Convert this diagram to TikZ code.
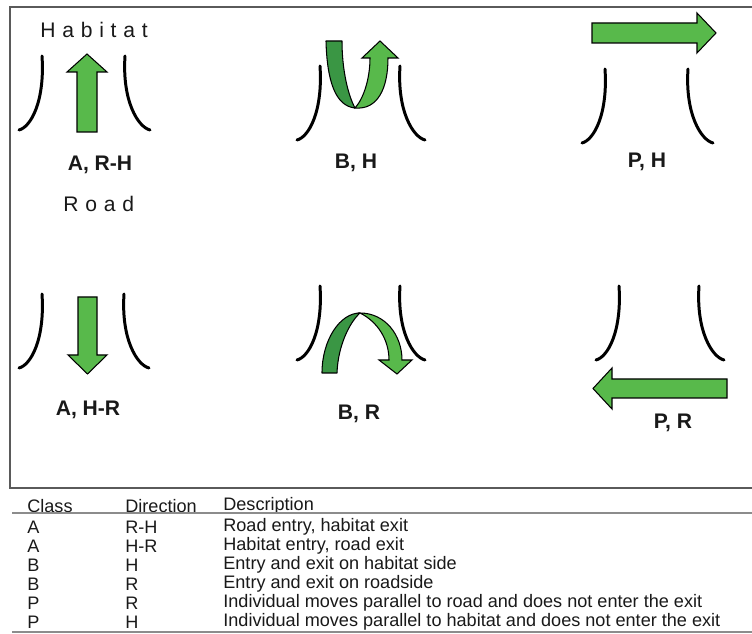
\documentclass[tikz,border=0pt]{standalone}
\usepackage{fontspec}
\setmainfont{Liberation Sans}
\newfontfamily\spacedfont[LetterSpace=32]{Liberation Sans}
\usepackage{xcolor}
\usepackage{tikz}
\usetikzlibrary{calc}
\definecolor{lightgr}{RGB}{88,185,75}
\definecolor{darkgr}{RGB}{58,150,68}
\definecolor{framegray}{RGB}{90,90,90}
\definecolor{rulegray}{RGB}{140,140,140}
\tikzset{
  gapline/.style={line width=1.7pt, line cap=round},
  arrowshape/.style={fill=lightgr, draw=black, line width=0.6pt, line join=miter},
  bandshape/.style={fill=darkgr, draw=black, line width=0.6pt, line join=round},
  caselabel/.style={font=\fontsize{12}{14}\selectfont\bfseries, text=black!90},
  sidelabel/.style={font=\fontsize{12}{14}\selectfont\spacedfont, text=black!90, anchor=west, inner sep=0pt},
  tabtext/.style={font=\fontsize{10.3}{12}\selectfont, anchor=west, inner sep=0pt, text=black!90}
}

\begin{document}
\begin{tikzpicture}[x=0.02cm, y=-0.02cm]
\useasboundingbox (0,0) rectangle (752,634);
\draw[framegray, line width=0.7pt] (752,7) -- (10,7) -- (10,488) -- (752,488);
\foreach \lx/\rx/\ty in {42/125/56, 42/124/294, 320/400/66, 320/400/286, 605/688/69, 619/699/286} {
  \draw[gapline] (\lx,\ty) .. controls +(3,45) and +(12,-3) .. +(-23,74);
  \draw[gapline] (\rx,\ty) .. controls +(-3,45) and +(-12,-3) .. +(25,74);
}
\draw[arrowshape] (77,132) -- (77,72) -- (67,72) -- (87,54) -- (107,72) -- (97,72) -- (97,132) -- cycle;
\draw[arrowshape] (78,297) -- (78,355) -- (68,355) -- (87.5,374) -- (107,355) -- (97,355) -- (97,297) -- cycle;
\draw[arrowshape] (592,23) -- (697,23) -- (697,13) -- (716,33) -- (697,53) -- (697,43) -- (592,43) -- cycle;
\draw[arrowshape] (727,379) -- (612,379) -- (612,368) -- (593,388.5) -- (612,409) -- (612,398) -- (727,398) -- cycle;
\draw[bandshape] (326,41) .. controls (327,80) and (335,106) .. (355,108) .. controls (348,95) and (342,70) .. (342,41) -- cycle;
\draw[arrowshape] (355,108) .. controls (378,110) and (388,88) .. (388,58) -- (398,58) -- (380,41) -- (362,58) -- (370,58) .. controls (370,78) and (364,98) .. (355,108) -- cycle;
\draw[bandshape] (322,373) .. controls (322,340) and (340,313) .. (360,313) .. controls (350,322) and (338,345) .. (337,373) -- cycle;
\draw[arrowshape] (360,313) .. controls (385,313) and (402,335) .. (402,360) -- (412,360) -- (397,374) -- (379,360) -- (389,360) .. controls (389,340) and (378,322) .. (360,313) -- cycle;
\node[sidelabel] (habitat) at (40,30) {Habitat};
\node[sidelabel] (road) at (63,204) {Road};
\foreach \nm/\px/\py/\txt in {rh/100/165/{A, R-H}, bh/356/163/{B, H}, ph/647/162/{P, H}, hr/88/410/{A, H-R}, br/359/414/{B, R}, pr/673/423/{P, R}}
  \node[caselabel] (lab-\nm) at (\px,\py) {\txt};
\node[tabtext] (hclass) at (27,506) {Class};
\node[tabtext] (hdir) at (125,506) {Direction};
\node[tabtext] (hdesc) at (223,506) {Description};
\draw[rulegray, line width=0.8pt] (12,513) -- (752,513);
\draw[rulegray, line width=0.8pt] (12,632) -- (752,632);
\foreach \cl/\dir/\desc [count=\i] in {A/R-H/{Road entry, habitat exit}, A/H-R/{Habitat entry, road exit}, B/H/{Entry and exit on habitat side}, B/R/{Entry and exit on roadside}, P/R/{Individual moves parallel to road and does not enter the exit}, P/H/{Individual moves parallel to habitat and does not enter the exit}} {
  \node[tabtext] (cls-\i) at (27,508+19*\i) {\cl};
  \node[tabtext] (dir-\i) at (125,508+19*\i) {\dir};
  \node[tabtext] (desc-\i) at (223,508+19*\i) {\desc};
}
\end{tikzpicture}
\end{document}
